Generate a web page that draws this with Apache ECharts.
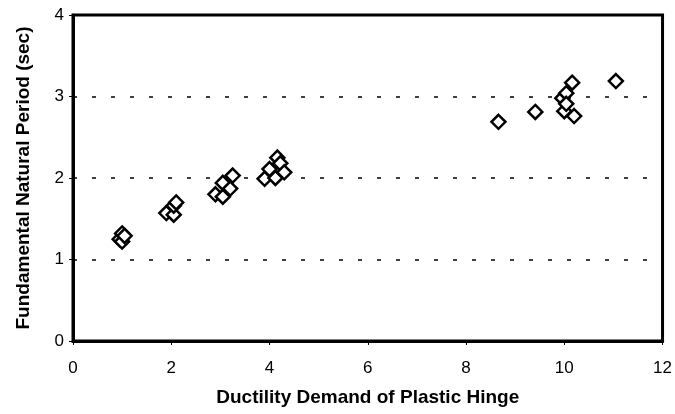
<!DOCTYPE html>
<html>
<head>
<meta charset="utf-8">
<title>Period vs Ductility</title>
<style>
  html, body { margin: 0; padding: 0; background: #fff; }
  #chart { width: 675px; height: 414px; }
</style>
</head>
<body>
<div id="chart"></div>
<script src="https://cdn.jsdelivr.net/npm/echarts@6/dist/echarts.min.js"></script>
<script>
// ductility demand (x) and fundamental period (y)
var ductility = [0.95, 1.0, 1.0, 1.05, 1.9, 2.05, 2.05, 2.1, 2.9, 3.05, 3.05, 3.2, 3.25,
                 3.9, 4.0, 4.12, 4.16, 4.22, 4.3, 8.66, 9.41, 9.96, 10.0, 10.04, 10.04, 10.16, 10.2, 11.05];
var period = [1.25, 1.32, 1.22, 1.29, 1.57, 1.55, 1.66, 1.7, 1.8, 1.77, 1.94, 1.87, 2.03,
              1.99, 2.11, 2.0, 2.25, 2.18, 2.07, 2.69, 2.81, 2.98, 2.82, 3.04, 2.91, 3.17, 2.76, 3.19];
var xTicks = [0, 2, 4, 6, 8, 10, 12];
var yTicks = [0, 1, 2, 3, 4];

var points = ductility.map(function (d, i) { return [d, period[i]]; });

var chart = echarts.init(document.getElementById('chart'), null, { renderer: 'canvas' });
var labelFont = { color: '#000', fontFamily: 'Liberation Sans, Arial, sans-serif', fontSize: 17 };
var nameFont = { color: '#000', fontFamily: 'Liberation Sans, Arial, sans-serif', fontSize: 19, fontWeight: 'bold' };

chart.setOption({
  animation: false,
  grid: { left: 73, right: 11, top: 15, bottom: 73, show: true, borderColor: '#000', borderWidth: 3 },
  xAxis: {
    type: 'value', min: xTicks[0], max: xTicks[xTicks.length - 1], interval: 2,
    name: 'Ductility Demand of Plastic Hinge', nameLocation: 'middle', nameGap: 47,
    nameTextStyle: nameFont,
    axisLine: { lineStyle: { color: '#000', width: 3 } },
    axisTick: { show: true, length: 4, lineStyle: { color: '#000' } },
    axisLabel: Object.assign({ margin: 19 }, labelFont),
    splitLine: { show: false }
  },
  yAxis: {
    type: 'value', min: yTicks[0], max: yTicks[yTicks.length - 1], interval: 1,
    name: 'Fundamental Natural Period (sec)', nameLocation: 'middle', nameGap: 40,
    nameTextStyle: nameFont,
    axisLine: { lineStyle: { color: '#000', width: 3 } },
    axisTick: { show: true, length: 4, lineStyle: { color: '#000' } },
    axisLabel: Object.assign({ margin: 9 }, labelFont),
    splitLine: { show: true, lineStyle: { color: '#000', width: 1.5, type: [4, 15] } }
  },
  series: [{
    type: 'scatter',
    data: points,
    symbol: 'diamond',
    symbolSize: 14,
    itemStyle: { color: '#fff', borderColor: '#000', borderWidth: 2.5, opacity: 1 }
  }]
});
</script>
</body>
</html>
